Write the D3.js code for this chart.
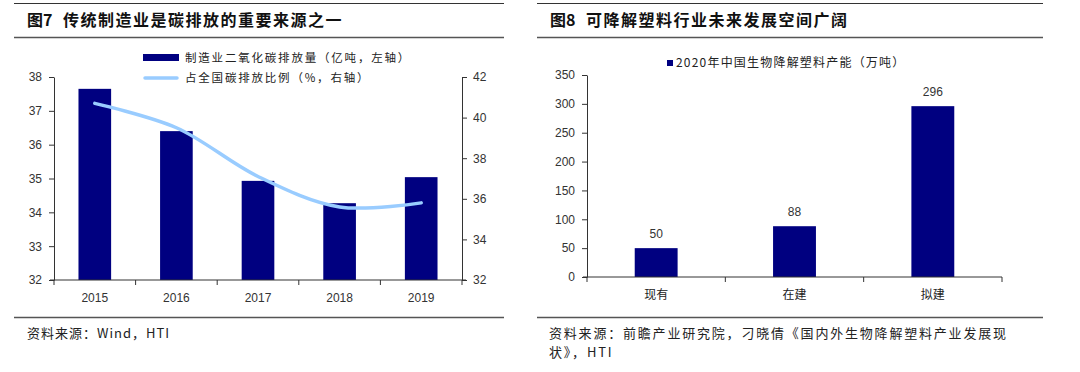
<!DOCTYPE html>
<html>
<head>
<meta charset="utf-8">
<script src="https://cdn.jsdelivr.net/npm/d3@7/dist/d3.min.js"></script>
<style>
body { margin: 0; background: #fff; }
svg { display: block; font-family: Arial, "Liberation Sans", "Noto Sans CJK SC", sans-serif; }
.cjk { font-family: "Noto Sans CJK SC", sans-serif; }
</style>
</head>
<body>
<svg id="chart" width="1080" height="372"></svg>
<script>
// fig 7 data
const years = ["2015", "2016", "2017", "2018", "2019"]
const emissions = [37.65, 36.4, 34.93, 34.27, 35.04]
const shareOfNational = [40.7, 39.5, 37.1, 35.6, 35.8]
const leftTicks = [32, 33, 34, 35, 36, 37, 38]
const rightTicks = [32, 34, 36, 38, 40, 42]

// fig 8 data
const stages = ["现有", "在建", "拟建"]
const capacity = [50, 88, 296]
const capTicks = [0, 50, 100, 150, 200, 250, 300, 350]

const navy = "#000080"
const lightBlue = "#99ccff"
const axisCol = "#333"

const svg = d3.select("#chart")

// frame lines + titles
function panel(x0, x1, title, num) {
	svg.append("line").attr("x1", x0).attr("x2", x1).attr("y1", 3.5).attr("y2", 3.5).attr("stroke", "#333").attr("stroke-width", 1)
	svg.append("line").attr("x1", x0).attr("x2", x1).attr("y1", 37.5).attr("y2", 37.5).attr("stroke", "#555").attr("stroke-width", 1.3)
	svg.append("line").attr("x1", x0).attr("x2", x1).attr("y1", 317.5).attr("y2", 317.5).attr("stroke", "#555").attr("stroke-width", 1.3)
	svg.append("text").attr("x", x0 + 13).attr("y", 26).attr("class", "cjk")
		.attr("font-size", 16).attr("font-weight", "bold").attr("fill", "#111")
		.text(num)
	svg.append("text").attr("x", x0 + 49).attr("y", 26).attr("class", "cjk")
		.attr("font-size", 16).attr("font-weight", "bold").attr("fill", "#111")
		.attr("letter-spacing", 1.5)
		.text(title)
}
panel(14, 504, "传统制造业是碳排放的重要来源之一", "图7")
panel(537, 1043, "可降解塑料行业未来发展空间广阔", "图8")

// ---- fig 7
const x7 = d3.scaleBand().domain(years).range([54, 462]).paddingInner(0.6).paddingOuter(0.3)
const yL = d3.scaleLinear().domain([32, 38]).range([280, 77])
const yR = d3.scaleLinear().domain([32, 42]).range([280, 77])

const g7 = svg.append("g")
g7.selectAll("rect.bar").data(emissions).join("rect")
	.attr("class", "bar")
	.attr("x", (d, i) => x7(years[i]))
	.attr("width", x7.bandwidth())
	.attr("y", d => yL(d))
	.attr("height", d => yL(32) - yL(d))
	.attr("fill", navy)

const line = d3.line()
	.x((d, i) => x7(years[i]) + x7.bandwidth() / 2)
	.y(d => yR(d))
	.curve(d3.curveCatmullRom.alpha(0.5))
g7.append("path").datum(shareOfNational)
	.attr("d", line)
	.attr("fill", "none")
	.attr("stroke", lightBlue)
	.attr("stroke-width", 3.5)
	.attr("stroke-linecap", "round")

function styleAxis(sel) {
	sel.selectAll("path,line").attr("stroke", axisCol)
	sel.selectAll("text").attr("fill", "#333").attr("font-size", 12).attr("font-family", "Arial, 'Liberation Sans', sans-serif")
}

svg.append("g").attr("transform", "translate(54,0)")
	.call(d3.axisLeft(yL).tickValues(leftTicks).tickFormat(d3.format("d")).tickSize(5).tickSizeOuter(0).tickPadding(7))
	.call(styleAxis)
svg.append("g").attr("transform", "translate(462,0)")
	.call(d3.axisRight(yR).tickValues(rightTicks).tickFormat(d3.format("d")).tickSize(5).tickSizeOuter(0).tickPadding(6))
	.call(styleAxis)

// x axis with ticks at band edges
const xAx7 = svg.append("g").attr("transform", "translate(0,280)")
xAx7.append("line").attr("x1", 50).attr("x2", 466).attr("stroke", axisCol)
xAx7.selectAll("line.tk").data(d3.range(years.length + 1)).join("line")
	.attr("class", "tk")
	.attr("x1", i => 54 + i * (408 / years.length)).attr("x2", i => 54 + i * (408 / years.length))
	.attr("y1", 0).attr("y2", 5).attr("stroke", axisCol)
xAx7.selectAll("text").data(years).join("text")
	.attr("x", d => x7(d) + x7.bandwidth() / 2)
	.attr("y", 22)
	.attr("text-anchor", "middle")
	.attr("font-size", 12).attr("fill", "#333")
	.text(d => d)

// legend
const lg7 = svg.append("g").attr("class", "cjk")
lg7.append("rect").attr("x", 143).attr("y", 54).attr("width", 36).attr("height", 7).attr("fill", navy)
lg7.append("text").attr("x", 185).attr("y", 62).attr("font-size", 11.5).attr("fill", "#222").attr("letter-spacing", 1.8)
	.text("制造业二氧化碳排放量（亿吨，左轴）")
lg7.append("line").attr("x1", 145).attr("x2", 177).attr("y1", 78).attr("y2", 78)
	.attr("stroke", lightBlue).attr("stroke-width", 3.5).attr("stroke-linecap", "round")
lg7.append("text").attr("x", 185).attr("y", 82).attr("font-size", 11.5).attr("fill", "#222").attr("letter-spacing", 1.8)
	.text("占全国碳排放比例（%，右轴）")

svg.append("text").attr("x", 27).attr("y", 338).attr("class", "cjk")
	.attr("font-size", 13).attr("fill", "#222").attr("letter-spacing", 1)
	.text("资料来源：Wind，HTI")

// ---- fig 8
const x8 = d3.scaleBand().domain(stages).range([587, 1002]).paddingInner(0.69).paddingOuter(0.345)
const y8 = d3.scaleLinear().domain([0, 350]).range([277, 75])

svg.append("g").selectAll("rect").data(capacity).join("rect")
	.attr("x", (d, i) => x8(stages[i]))
	.attr("width", x8.bandwidth())
	.attr("y", d => y8(d))
	.attr("height", d => y8(0) - y8(d))
	.attr("fill", navy)

svg.append("g").selectAll("text").data(capacity).join("text")
	.attr("x", (d, i) => x8(stages[i]) + x8.bandwidth() / 2)
	.attr("y", d => y8(d) - 10)
	.attr("text-anchor", "middle")
	.attr("font-size", 12).attr("fill", "#333")
	.text(d => d)

svg.append("g").attr("transform", "translate(587,0)")
	.call(d3.axisLeft(y8).tickValues(capTicks).tickFormat(d3.format("d")).tickSize(5).tickSizeOuter(0).tickPadding(7))
	.call(styleAxis)

const xAx8 = svg.append("g").attr("transform", "translate(0,277)")
xAx8.append("line").attr("x1", 583).attr("x2", 1002).attr("stroke", axisCol)
xAx8.selectAll("line.tk").data(d3.range(stages.length + 1)).join("line")
	.attr("class", "tk")
	.attr("x1", i => 587 + i * (415 / stages.length)).attr("x2", i => 587 + i * (415 / stages.length))
	.attr("y1", 0).attr("y2", 5).attr("stroke", axisCol)
xAx8.selectAll("text").data(stages).join("text")
	.attr("class", "cjk")
	.attr("x", d => x8(d) + x8.bandwidth() / 2)
	.attr("y", 22)
	.attr("text-anchor", "middle")
	.attr("font-size", 12).attr("fill", "#222")
	.text(d => d)

const lg8 = svg.append("g").attr("class", "cjk")
lg8.append("rect").attr("x", 667).attr("y", 60).attr("width", 6).attr("height", 6).attr("fill", navy)
lg8.append("text").attr("x", 676).attr("y", 67).attr("font-size", 12).attr("fill", "#222").attr("letter-spacing", 1.2)
	.text("2020年中国生物降解塑料产能（万吨）")

const src8 = svg.append("text").attr("class", "cjk").attr("font-size", 13).attr("fill", "#222").attr("letter-spacing", 1.8)
src8.append("tspan").attr("x", 549).attr("y", 338).text("资料来源：前瞻产业研究院，刁晓倩《国内外生物降解塑料产业发展现")
src8.append("tspan").attr("x", 549).attr("y", 357).text("状》，HTI")
</script>
</body>
</html>
